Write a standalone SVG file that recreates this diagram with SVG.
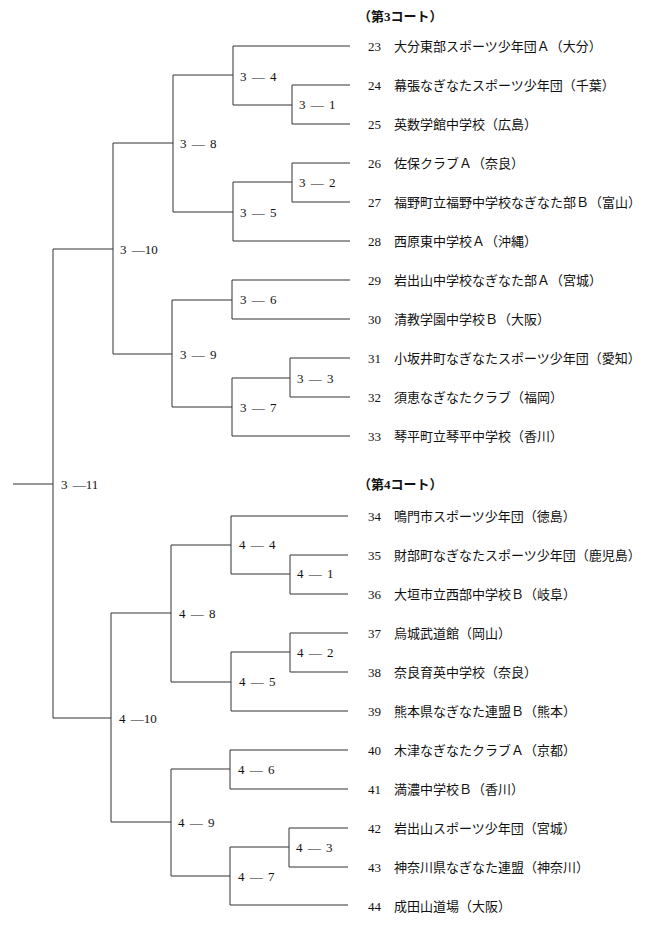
<svg xmlns="http://www.w3.org/2000/svg" width="661" height="928" viewBox="0 0 661 928">
<style>
.c{fill:none;stroke:#333;stroke-width:1}
.t{font-family:"Liberation Serif","Noto Sans CJK JP",serif;font-size:13px;fill:#111}
.l{font-family:"Liberation Serif",serif;font-size:13px;fill:#111;word-spacing:2px}
.h{font-family:"Liberation Serif","Noto Sans CJK JP",serif;font-size:13px;font-weight:bold;fill:#111}
</style>
<rect width="661" height="928" fill="#fff"/>
<g id="connectors" class="c">
<path d="M233,46H350M233,46V105H292M292,85H350M292,85V124H350"/>
<path d="M292,163H350M292,163V202H350M233,182H292M233,182V241H350"/>
<path d="M173,75H233M173,75V212H233"/>
<path d="M232,280H350M232,280V319H350M290,358H350M290,358V397H350M232,378H290M232,378V436H350"/>
<path d="M172,300H232M172,300V407H232"/>
<path d="M113,143H173M113,143V354H172M53,249H113M13,484H53M53,249V718H111"/>
<path d="M231,516H348M231,516V574H290M290,555H348M290,555V594H348"/>
<path d="M290,633H348M290,633V672H348M231,652H290M231,652V711H348"/>
<path d="M171,545H231M171,545V682H231"/>
<path d="M230,750H348M230,750V789H348M289,828H348M289,828V867H348M230,847H289M230,847V905H348"/>
<path d="M171,769H230M171,769V876H230"/>
<path d="M111,613H171M111,613V822H171"/>
</g>
<g id="labels" class="l">
<text x="240" y="81">3 — 4</text><text x="299" y="109">3 — 1</text>
<text x="180" y="148">3 — 8</text><text x="299" y="187">3 — 2</text>
<text x="240" y="217">3 — 5</text><text x="120" y="254">3 —10</text>
<text x="240" y="304">3 — 6</text><text x="180" y="359">3 — 9</text>
<text x="297" y="383">3 — 3</text><text x="240" y="412">3 — 7</text>
<text x="61" y="489">3 —11</text>
<text x="239" y="549">4 — 4</text><text x="297" y="578">4 — 1</text>
<text x="179" y="618">4 — 8</text><text x="297" y="657">4 — 2</text>
<text x="239" y="686">4 — 5</text><text x="119" y="723">4 —10</text>
<text x="238" y="774">4 — 6</text><text x="178" y="827">4 — 9</text>
<text x="296" y="852">4 — 3</text><text x="238" y="881">4 — 7</text>
</g>
<g id="court3">
<text class="h" x="358" y="21">（第3コート）</text>
<g id="t23" class="t"><text x="368" y="51">23</text><text x="394" y="51">大分東部スポーツ少年団Ａ（大分）</text></g>
<g id="t24" class="t"><text x="368" y="90">24</text><text x="394" y="90">幕張なぎなたスポーツ少年団（千葉）</text></g>
<g id="t25" class="t"><text x="368" y="129">25</text><text x="394" y="129">英数学館中学校（広島）</text></g>
<g id="t26" class="t"><text x="368" y="168">26</text><text x="394" y="168">佐保クラブＡ（奈良）</text></g>
<g id="t27" class="t"><text x="368" y="207">27</text><text x="394" y="207">福野町立福野中学校なぎなた部Ｂ（富山）</text></g>
<g id="t28" class="t"><text x="368" y="246">28</text><text x="394" y="246">西原東中学校Ａ（沖縄）</text></g>
<g id="t29" class="t"><text x="368" y="285">29</text><text x="394" y="285">岩出山中学校なぎなた部Ａ（宮城）</text></g>
<g id="t30" class="t"><text x="368" y="324">30</text><text x="394" y="324">清教学園中学校Ｂ（大阪）</text></g>
<g id="t31" class="t"><text x="368" y="363">31</text><text x="394" y="363">小坂井町なぎなたスポーツ少年団（愛知）</text></g>
<g id="t32" class="t"><text x="368" y="402">32</text><text x="394" y="402">須恵なぎなたクラブ（福岡）</text></g>
<g id="t33" class="t"><text x="368" y="441">33</text><text x="394" y="441">琴平町立琴平中学校（香川）</text></g>
</g>
<g id="court4">
<text class="h" x="358" y="489">（第4コート）</text>
<g id="t34" class="t"><text x="368" y="521">34</text><text x="394" y="521">鳴門市スポーツ少年団（徳島）</text></g>
<g id="t35" class="t"><text x="368" y="560">35</text><text x="394" y="560">財部町なぎなたスポーツ少年団（鹿児島）</text></g>
<g id="t36" class="t"><text x="368" y="599">36</text><text x="394" y="599">大垣市立西部中学校Ｂ（岐阜）</text></g>
<g id="t37" class="t"><text x="368" y="638">37</text><text x="394" y="638">烏城武道館（岡山）</text></g>
<g id="t38" class="t"><text x="368" y="677">38</text><text x="394" y="677">奈良育英中学校（奈良）</text></g>
<g id="t39" class="t"><text x="368" y="716">39</text><text x="394" y="716">熊本県なぎなた連盟Ｂ（熊本）</text></g>
<g id="t40" class="t"><text x="368" y="755">40</text><text x="394" y="755">木津なぎなたクラブＡ（京都）</text></g>
<g id="t41" class="t"><text x="368" y="794">41</text><text x="394" y="794">満濃中学校Ｂ（香川）</text></g>
<g id="t42" class="t"><text x="368" y="833">42</text><text x="394" y="833">岩出山スポーツ少年団（宮城）</text></g>
<g id="t43" class="t"><text x="368" y="872">43</text><text x="394" y="872">神奈川県なぎなた連盟（神奈川）</text></g>
<g id="t44" class="t"><text x="368" y="911">44</text><text x="394" y="911">成田山道場（大阪）</text></g>
</g>
</svg>
